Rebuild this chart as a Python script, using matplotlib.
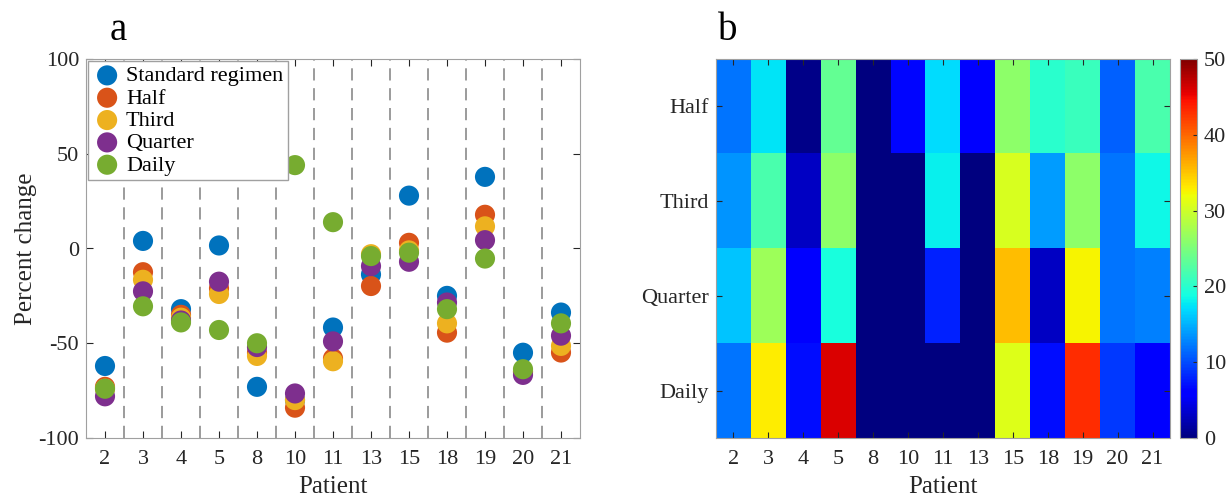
import numpy as np
import matplotlib.pyplot as plt

plt.rcParams['font.family'] = ['Liberation Serif', 'DejaVu Serif']
plt.rcParams['axes.unicode_minus'] = False

patients = ['2', '3', '4', '5', '8', '10', '11', '13', '15', '18', '19', '20', '21']
regimens = ['Standard regimen', 'Half', 'Third', 'Quarter', 'Daily']
colors = ['#0072BD', '#D95319', '#EDB120', '#7E2F8E', '#77AC30']

# percent change per patient (panel a)
standard = [-62, 4, -32, 1.6, -73, -80, -41.7, -13.7, 27.9, -25, 37.8, -55, -33.8]
half = [-73, -12.5, -35, -21, -55, -84, -58, -19.8, 3, -44.4, 17.8, -65, -54.9]
third = [-74, -16.5, -36.5, -24, -56.7, -80, -59.5, -3, -1, -39.5, 11.7, -65, -51.4]
quarter = [-78, -22.6, -38, -17.5, -52, -76.5, -49, -9.3, -7, -28.5, 4.4, -66.7, -46]
daily = [-74, -30.5, -39, -43, -50, 44, 13.9, -4, -2.2, -32, -5.3, -63.7, -39.5]

# heatmap (panel b), rows Half, Third, Quarter, Daily
row_labels = ['Half', 'Third', 'Quarter', 'Daily']
heat_half = [12, 17.5, 0.5, 23.5, 0, 6.5, 17, 6, 26, 20, 21, 11, 22]
heat_third = [13.5, 22, 3, 26, 0, 0, 18, 0, 30.5, 14, 26, 12, 18.5]
heat_quarter = [16, 27, 6, 19, 0, 0, 8, 0, 35.5, 3, 32.5, 12, 12.5]
heat_daily = [12, 33, 7, 46, 0, 0, 0, 0, 31, 7, 43, 9, 6]

fig = plt.figure(figsize=(12.26, 4.98), dpi=100)
W, H = 1226, 498
ax1 = fig.add_axes([86 / W, 1 - 438 / H, (580 - 86) / W, (438 - 59) / H])
ax2 = fig.add_axes([716 / W, 1 - 438 / H, (1170 - 716) / W, (438 - 59) / H])
cax = fig.add_axes([1180 / W, 1 - 438 / H, (1197 - 1180) / W, (438 - 59) / H])

grey = '#262626'
fs = 16
lfs = 18
x = np.arange(1, len(patients) + 1)
for xv in x[:-1] + 0.5:
    ax1.axvline(xv, color='#808080', lw=1.1, ls=(0, (8, 5)), zorder=1)
for vals, c, name in zip([standard, half, third, quarter, daily], colors, regimens):
    ax1.scatter(x, vals, s=210, color=c, label=name, zorder=3, edgecolors='none')
ax1.set_xlim(0.5, 13.5)
ax1.set_ylim(-100, 100)
ax1.set_xticks(x)
ax1.set_xticklabels(patients)
ax1.set_yticks([-100, -50, 0, 50, 100])
ax1.set_xlabel('Patient', fontsize=lfs, color=grey, labelpad=5)
ax1.set_ylabel('Percent change', fontsize=lfs, color=grey, labelpad=1)
ax1.tick_params(direction='in', top=True, right=True, labelsize=fs, colors=grey, length=5)
ax1.tick_params(axis='x', pad=9)
ax1.tick_params(axis='y', pad=5)
for sp in ax1.spines.values():
    sp.set_color('#a0a0a0')
leg = ax1.legend(loc='upper left', fontsize=fs, frameon=True, fancybox=False, framealpha=1,
                 borderaxespad=0.1, handletextpad=0.2, labelspacing=0.08,
                 borderpad=0.2, handlelength=1.3, markerscale=1.0)
leg.get_frame().set_edgecolor('#a0a0a0')
leg.get_frame().set_linewidth(1.0)
leg.set_zorder(5)
fig.text(118 / W, 1 - 30 / H, 'a', fontsize=28, ha='center', va='center')

heat = np.array([heat_half, heat_third, heat_quarter, heat_daily])
im = ax2.imshow(heat, cmap='jet', vmin=0, vmax=50, aspect='auto', interpolation='nearest')
ax2.set_xticks(np.arange(len(patients)))
ax2.set_xticklabels(patients)
ax2.set_yticks(np.arange(len(row_labels)))
ax2.set_yticklabels(row_labels)
ax2.set_xlabel('Patient', fontsize=lfs, color=grey, labelpad=5)
ax2.tick_params(direction='in', top=True, right=True, labelsize=fs, colors=grey, length=4)
ax2.tick_params(axis='x', pad=9)
ax2.tick_params(axis='y', pad=5)
for sp in ax2.spines.values():
    sp.set_color('#a0a0a0')
fig.text(728 / W, 1 - 30 / H, 'b', fontsize=28, ha='center', va='center')

cb = fig.colorbar(im, cax=cax, ticks=[0, 10, 20, 30, 40, 50])
cb.ax.tick_params(direction='in', labelsize=fs, colors=grey, length=3, pad=5)
cb.outline.set_edgecolor('#a0a0a0')

fig.savefig('out.png', dpi=100)
